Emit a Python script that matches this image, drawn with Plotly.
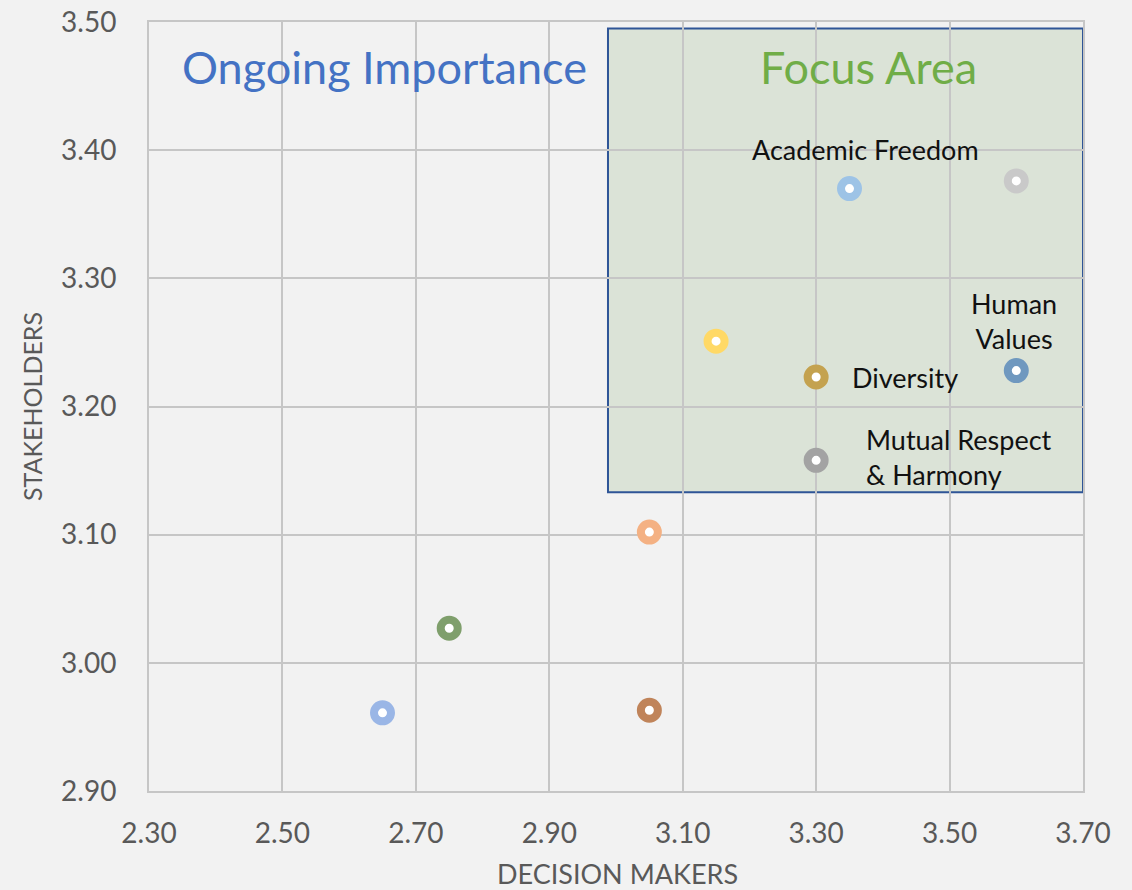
import plotly.graph_objects as go

# ---- data ----
names = ["Academic Freedom", "Item B", "Item C", "Diversity", "Human Values",
         "Mutual Respect & Harmony", "Item G", "Item H", "Item I", "Item J"]
decision_makers = [3.35, 3.60, 3.15, 3.30, 3.60, 3.30, 3.05, 2.75, 3.05, 2.65]
stakeholders = [3.370, 3.376, 3.251, 3.223, 3.228, 3.158, 3.102, 3.027, 2.963, 2.961]
colors = ["#9dc3e6", "#c9c9c9", "#ffd966", "#c4a24f", "#6f98bf",
          "#a3a3a3", "#f4b183", "#7f9f6c", "#c0845a", "#9ab6e6"]

x_ticks = [2.30, 2.50, 2.70, 2.90, 3.10, 3.30, 3.50, 3.70]
y_ticks = [2.90, 3.00, 3.10, 3.20, 3.30, 3.40, 3.50]

focus_x = [2.988, 3.70]
focus_y = [3.133, 3.495]

FONT = "Lato"

W, H = 1132, 890
L, R, T, B = 149, 49, 22, 99
pw, ph = W - L - R, H - T - B

fig = go.Figure()
for n, xv, yv, c in zip(names, decision_makers, stakeholders, colors):
    fig.add_trace(go.Scatter(
        x=[xv], y=[yv], mode="markers", name=n, showlegend=False,
        marker=dict(size=17, color="white", line=dict(color=c, width=8)),
    ))

# point labels (anchored to data)
label_specs = {
    "Academic Freedom": dict(text="Academic Freedom", xanchor="center", xshift=16, yshift=39),
    "Human Values": dict(text="Human<br>Values", xanchor="center", xshift=-2, yshift=50),
    "Diversity": dict(text="Diversity", xanchor="left", xshift=34, yshift=0),
    "Mutual Respect & Harmony": dict(text="Mutual Respect<br>&amp; Harmony", xanchor="left", xshift=48, yshift=3, align="left"),
}
for n, xv, yv in zip(names, decision_makers, stakeholders):
    if n in label_specs:
        s = label_specs[n]
        fig.add_annotation(x=xv, y=yv, xref="x", yref="y", text=s["text"],
                           showarrow=False, xanchor=s["xanchor"], yanchor="middle",
                           xshift=s["xshift"], yshift=s["yshift"],
                           align=s.get("align", "center"),
                           font=dict(family=FONT, size=27, color="#111111"))

fig.add_shape(type="rect", xref="x", yref="y", x0=focus_x[0], x1=focus_x[1],
              y0=focus_y[0], y1=focus_y[1], layer="below",
              fillcolor="#dbe3d7", line=dict(color="#2f5597", width=2))

def px_to_paper(px, py):
    return (px - L) / pw, 1 - (py - T) / ph

ox, oy = px_to_paper(384, 67)
fig.add_annotation(x=ox, y=oy, xref="paper", yref="paper", text="Ongoing Importance",
                   xanchor="center", yanchor="middle",
                   showarrow=False, font=dict(family=FONT, size=45, color="#4472c4"))
fx, fy = px_to_paper(868, 67)
fig.add_annotation(x=fx, y=fy, xref="paper", yref="paper", text="Focus Area",
                   xanchor="center", yanchor="middle",
                   showarrow=False, font=dict(family=FONT, size=45, color="#70ad47"))

# x-axis title as annotation
tx, ty = px_to_paper(617, 873)
fig.add_annotation(x=tx, y=ty, xref="paper", yref="paper", text="DECISION MAKERS",
                   xanchor="center", yanchor="middle", showarrow=False,
                   font=dict(family=FONT, size=27, color="#595959"))

axis_common = dict(showgrid=True, gridcolor="#c6c6c6", gridwidth=2,
                   showline=True, linecolor="#c6c6c6", linewidth=2, mirror=True,
                   zeroline=False, ticks="", ticklabeloverflow="allow",
                   tickfont=dict(family=FONT, size=28, color="#595959"))

fig.update_xaxes(range=[x_ticks[0], x_ticks[-1]], tickvals=x_ticks,
                 ticktext=[f"{v:.2f}" for v in x_ticks], ticklabelstandoff=16,
                 **axis_common)
fig.update_yaxes(range=[y_ticks[0], y_ticks[-1]], tickvals=y_ticks,
                 ticktext=[f"{v:.2f}" for v in y_ticks], ticklabelstandoff=25,
                 title=dict(text="STAKEHOLDERS", standoff=11,
                            font=dict(family=FONT, size=25, color="#595959")),
                 **axis_common)

fig.update_layout(width=W, height=H, margin=dict(l=L, r=R, t=T, b=B, autoexpand=False),
                  paper_bgcolor="#f2f2f2", plot_bgcolor="#f2f2f2",
                  font=dict(family=FONT))

fig.write_html("out.html", config={"displayModeBar": False},
               post_script="document.body.style.margin='0';document.body.style.background='#f2f2f2';")
